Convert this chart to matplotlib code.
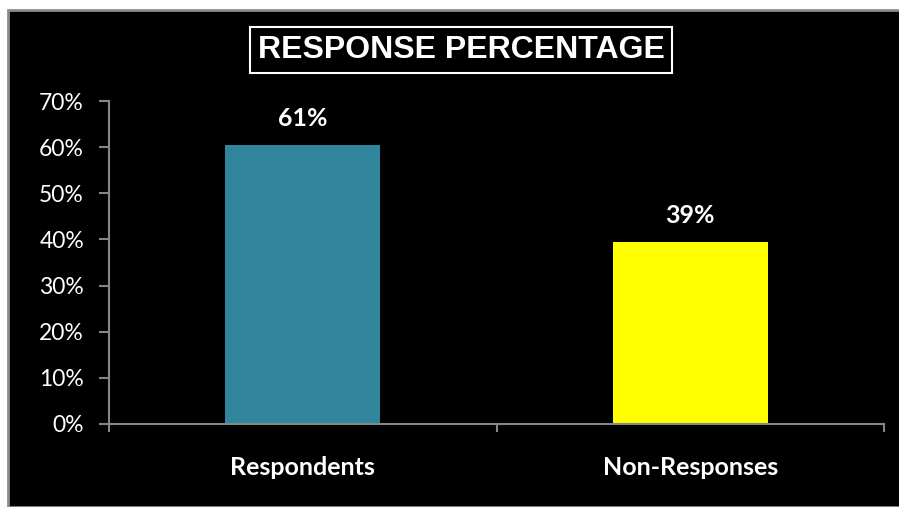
import matplotlib
matplotlib.use("Agg")
import matplotlib.pyplot as plt
from matplotlib.patches import Rectangle
from matplotlib.ticker import PercentFormatter, MultipleLocator

categories = ["Respondents", "Non-Responses"]
values = [0.605, 0.395]
value_labels = ["61%", "39%"]
colors = ["#31859C", "#FFFF00"]
title = "RESPONSE PERCENTAGE"

W, H = 899, 507
fig = plt.figure(figsize=(W / 100, H / 100), dpi=100)
fig.patch.set_facecolor("white")

# black chart area with grey border
fig.add_artist(Rectangle((8 / W, 0), 1 - 8 / W + 0.01, (H - 10) / H,
                         transform=fig.transFigure, facecolor="black",
                         edgecolor="#8C8C8C", linewidth=2, zorder=0))

ax = fig.add_axes([109 / W, 1 - 424 / H, (884 - 109) / W, (424 - 101) / H])
ax.set_facecolor("black")

x = list(range(len(categories)))
ax.bar(x, values, width=0.4, color=colors, zorder=2)
ax.set_xlim(-0.5, len(categories) - 0.5)
ax.set_ylim(0, 0.70)
ax.yaxis.set_major_locator(MultipleLocator(0.10))
ax.yaxis.set_major_formatter(PercentFormatter(1.0, decimals=0))

for s in ["top", "right"]:
    ax.spines[s].set_visible(False)
for s in ["left", "bottom"]:
    ax.spines[s].set_color("#868686")
    ax.spines[s].set_linewidth(1.5)

ax.tick_params(axis="y", colors="#868686", length=7, width=1.5, labelcolor="white",
               labelsize=16.5, pad=11)
ax.set_xticks([-0.5, 0.5, 1.5])
ax.set_xticklabels([])
ax.tick_params(axis="x", colors="#868686", length=6, width=1.5)
for lbl in ax.get_yticklabels():
    lbl.set_family(["Lato", "DejaVu Sans"])

# category labels
for xi, c in zip(x, categories):
    ax.text(xi, -0.094, c, ha="center", va="center", color="white",
            fontsize=18, fontweight="bold", family=["Lato", "DejaVu Sans"])

# value labels
for xi, v, lab in zip(x, values, value_labels):
    ax.annotate(lab, (xi, v), xytext=(0, 19), textcoords="offset points",
                ha="center", va="center", color="white", fontsize=18,
                fontweight="bold", family=["Lato", "DejaVu Sans"])

fig.text(461 / W, 1 - 50 / H, title, ha="center", va="center", color="white",
         fontsize=23, fontweight="bold", family=["Liberation Sans", "DejaVu Sans"],
         bbox=dict(boxstyle="square,pad=0.25", facecolor="black", edgecolor="white",
                   linewidth=1.5))

fig.savefig("out.png", dpi=100, facecolor=fig.get_facecolor())
